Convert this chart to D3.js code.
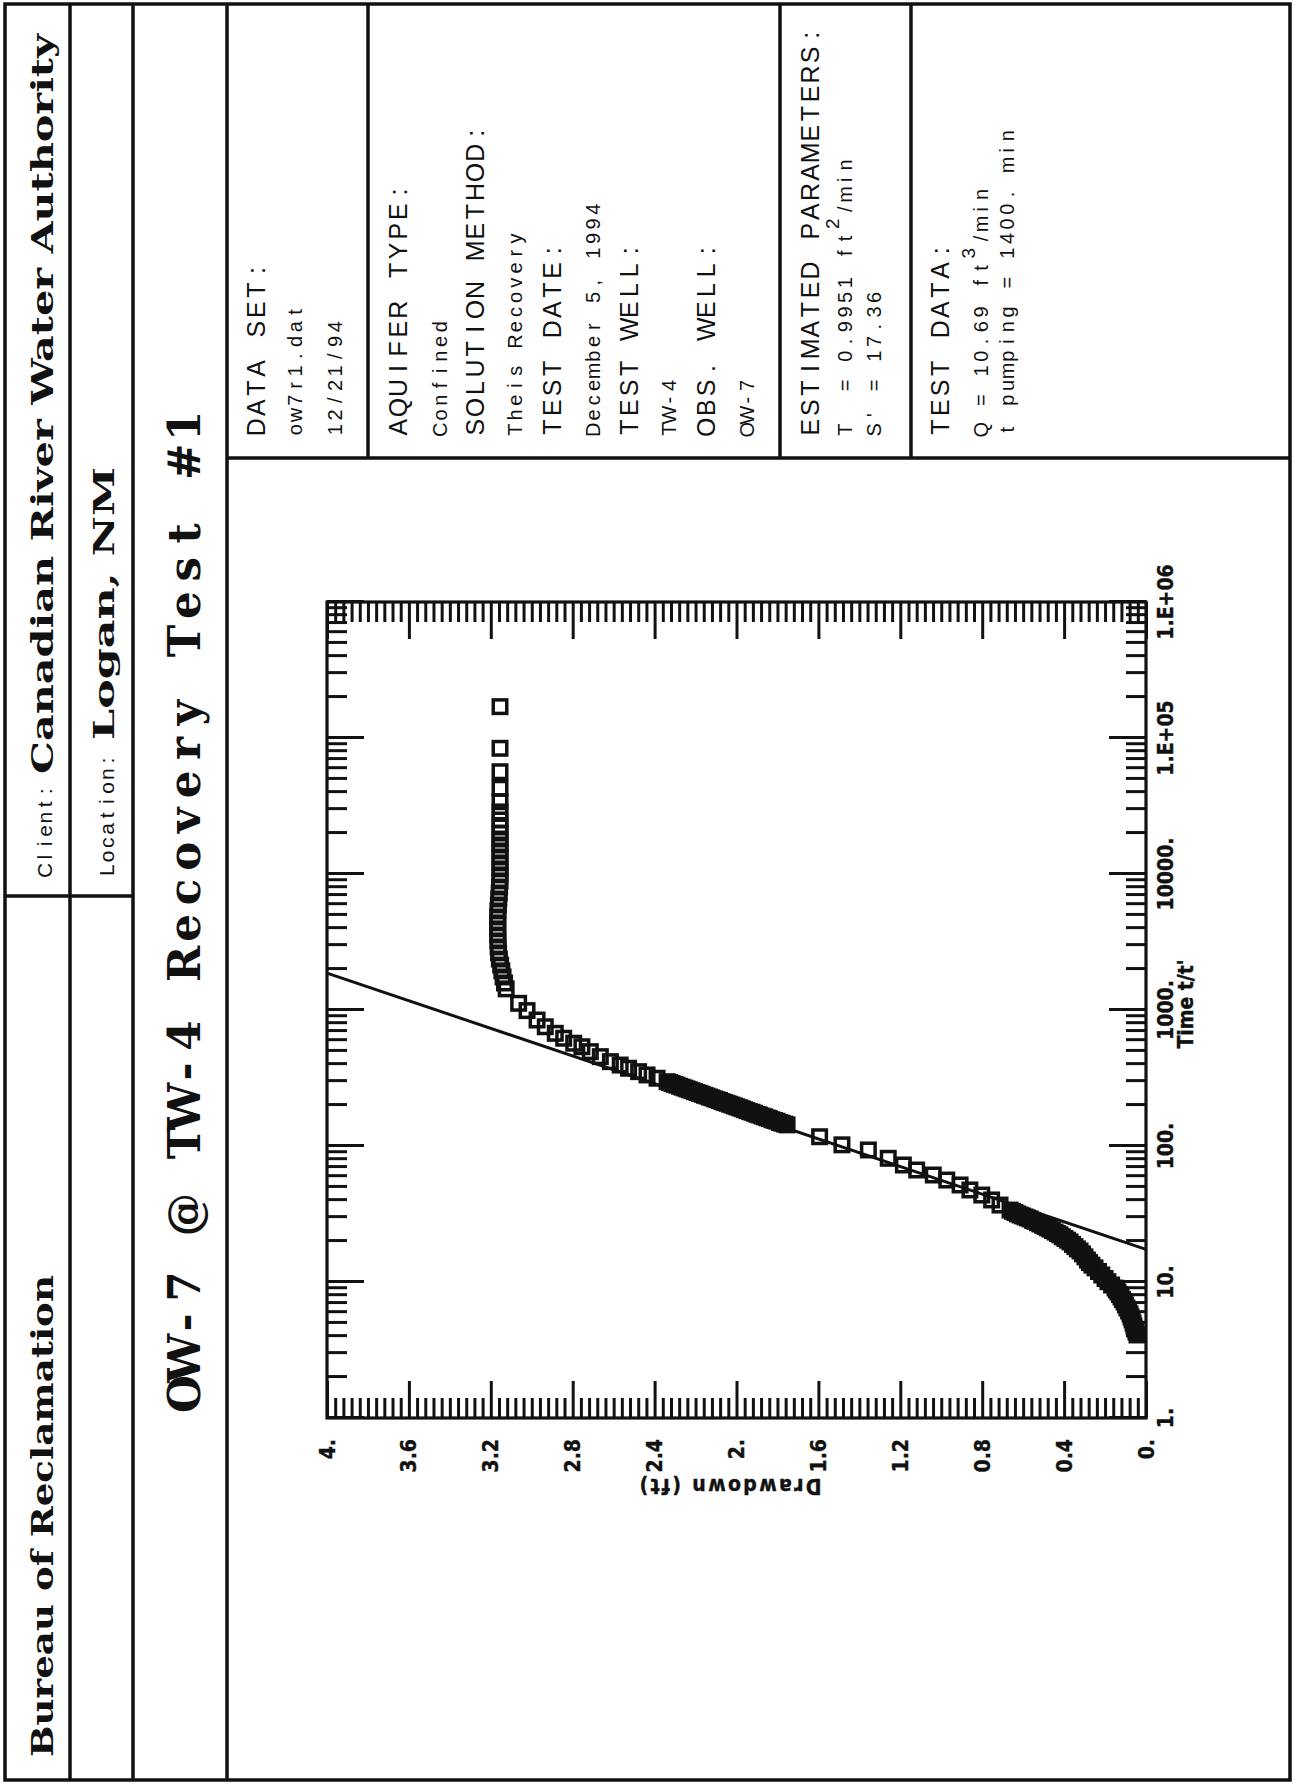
<!DOCTYPE html>
<html>
<head>
<meta charset="utf-8">
<script src="https://cdn.jsdelivr.net/npm/d3@7"></script>
<style>
  html, body { margin: 0; padding: 0; background: #fff; }
  svg { display: block; }
  .serif-bold { font-family: "DejaVu Serif", "Liberation Serif", serif; font-weight: bold; fill: #111; }
  .title { font-family: "DejaVu Serif", "Liberation Serif", serif; font-weight: bold; font-size: 45px; fill: #111; }
  .plain { font-family: "Liberation Sans", Arial, sans-serif; fill: #111; white-space: pre; }
  .tick-label { font-family: "Liberation Sans Narrow", "Arial Narrow", "DejaVu Sans Condensed", "Liberation Sans", sans-serif;
                font-weight: bold; font-size: 21px; fill: #111; stroke: #111; stroke-width: 0.4; }
  .axis-title { font-family: "Liberation Sans Narrow", "Arial Narrow", "DejaVu Sans Condensed", "Liberation Sans", sans-serif;
                font-weight: bold; font-size: 21px; fill: #111; stroke: #111; stroke-width: 0.4; }
</style>
</head>
<body>
<svg id="page" width="1296" height="1785"></svg>
<script>
// ---- Recovery data: ratio t/t' and residual drawdown (ft), in recovery order ----
const timeRatio = [
  // early recovery, water level still flat
  170000, 84000, 56500, 42700, 34000,
  28600, 24950, 22170, 20000, 18080, 16340, 14770, 13340, 12060, 10900, 9850, 8900,
  8020, 7250, 6550, 5920, 5350, 4830, 4370, 3950, 3560, 3220, 2910, 2630,
  2370, 2140, 1940, 1750, 1580, 1430,
  // bend and straight-line portion
  1120, 990, 844, 753, 674, 620, 570, 537, 494, 454, 417, 394, 373, 352, 333, 315,
  297, 293, 288, 284, 280, 275, 271, 267, 263, 259, 255, 251, 247, 244, 240, 236,
  233, 229, 226, 222, 219, 216, 212, 209, 206, 203, 200, 197, 194, 191, 188, 185,
  182, 179, 177, 174, 171, 169, 166, 164, 161, 159, 156, 154, 152, 149, 147, 145, 143,
  117, 102, 93.5, 81.2, 72.5, 66.6, 61.2, 56.2, 51.7, 47.5, 43.6, 40.1, 36.8,
  33.8, 33.1, 32.4, 31.7, 31.1, 30.6, 30.1, 29.6, 29.1, 28.4, 27.9, 27.3, 26.7, 26.1, 25.6, 25.0,
  24.5, 23.9, 23.3, 22.7, 22.2, 21.5, 20.9, 20.3, 19.7, 18.9, 18.2, 17.5, 16.9, 16.1, 15.3, 14.5,
  // late recovery
  13.9, 13.3, 12.7, 11.95, 11.26, 10.61, 10.05, 9.50, 9.03, 8.73, 8.44, 8.09, 7.76, 7.43,
  7.13, 6.78, 6.44, 6.12, 5.82, 5.53, 5.26, 4.99, 4.75, 4.51, 4.29, 4.08
];
const residualDrawdown = [
  3.155, 3.155, 3.155, 3.155, 3.155,
  3.155, 3.155, 3.155, 3.155, 3.155, 3.155, 3.155, 3.155, 3.155, 3.155, 3.155, 3.155,
  3.157, 3.159, 3.161, 3.163, 3.165, 3.166, 3.166, 3.166, 3.166, 3.165, 3.164, 3.162,
  3.158, 3.152, 3.146, 3.140, 3.133, 3.125,
  3.064, 3.023, 2.974, 2.934, 2.885, 2.844, 2.795, 2.755, 2.714, 2.665, 2.616, 2.568, 2.527, 2.478, 2.437, 2.388,
  2.339, 2.327, 2.315, 2.303, 2.291, 2.278, 2.266, 2.254, 2.242, 2.230, 2.217, 2.205, 2.193, 2.181, 2.168, 2.156,
  2.144, 2.132, 2.120, 2.107, 2.095, 2.083, 2.071, 2.059, 2.046, 2.034, 2.022, 2.010, 1.998, 1.985, 1.973, 1.961,
  1.949, 1.936, 1.924, 1.912, 1.900, 1.888, 1.875, 1.863, 1.851, 1.839, 1.827, 1.814, 1.802, 1.790, 1.778, 1.765, 1.753,
  1.594, 1.485, 1.356, 1.259, 1.185, 1.120, 1.039, 0.973, 0.908, 0.860, 0.802, 0.754, 0.713,
  0.664, 0.652, 0.640, 0.628, 0.615, 0.603, 0.591, 0.579, 0.566, 0.554, 0.542, 0.530, 0.518, 0.505, 0.493, 0.481,
  0.469, 0.457, 0.444, 0.432, 0.420, 0.408, 0.396, 0.383, 0.371, 0.359, 0.347, 0.335, 0.322, 0.310, 0.298, 0.286,
  0.276, 0.264, 0.249, 0.232, 0.216, 0.200, 0.186, 0.168, 0.151, 0.144, 0.137, 0.129, 0.122, 0.115,
  0.107, 0.100, 0.093, 0.085, 0.078, 0.073, 0.068, 0.063, 0.059, 0.054, 0.049, 0.044
];

// ---- Axis ticks ----
const xTickValues = [1, 10, 100, 1000, 10000, 100000, 1000000];
const xTickLabels = ["1.", "10.", "100.", "1000.", "10000.", "1.E+05", "1.E+06"];
const yTickValues = [0, 0.4, 0.8, 1.2, 1.6, 2.0, 2.4, 2.8, 3.2, 3.6, 4.0];
const yTickLabels = ["0.", "0.4", "0.8", "1.2", "1.6", "2.", "2.4", "2.8", "3.2", "3.6", "4."];

// ---- Test and fitted parameters (Theis recovery) ----
const pumpingRate = 10.69;       // Q, ft3/min
const transmissivity = 0.9951;   // T, ft2/min
const storageRatio = 17.36;      // S', t/t' where the straight line reaches zero drawdown
const pumpingTime = 1400;        // min

// ---- Header / info panel texts ----
const headerOrg = "Bureau of Reclamation";
const clientName = "Canadian River Water Authority";
const locationName = "Logan, NM";
const chartTitle = "OW-7 @ TW-4 Recovery Test #1";
const xAxisTitle = "Time t/t'";
const yAxisTitle = "Drawdown (ft)";

// ---- Page (landscape sheet, turned a quarter turn on the portrait page) ----
const svg = d3.select("#page");
const sheet = svg.append("g").attr("transform", "translate(0,1785) rotate(-90)");

const rules = sheet.append("g").attr("fill", "none").attr("stroke", "#111").attr("stroke-width", 3.5);
rules.append("rect").attr("x", 5).attr("y", 5).attr("width", 1776).attr("height", 1285);
[70, 133, 227].forEach(v => rules.append("line").attr("x1", 5).attr("x2", 1781).attr("y1", v).attr("y2", v));
rules.append("line").attr("x1", 889).attr("x2", 889).attr("y1", 5).attr("y2", 133);
rules.append("line").attr("x1", 1327).attr("x2", 1327).attr("y1", 227).attr("y2", 1290);
[368, 780, 911].forEach(v => rules.append("line").attr("x1", 1327).attr("x2", 1781).attr("y1", v).attr("y2", v));

// fixed-pitch text: every character centred in its own cell
function pitchText(parent, str, x0, pitch, y, size, cls) {
  const xs = [...str].map((c, i) => (x0 + pitch * (i + 0.5)).toFixed(1));
  return parent.append("text")
    .attr("class", cls)
    .attr("xml:space", "preserve")
    .attr("x", xs.join(" "))
    .attr("y", y)
    .attr("text-anchor", "middle")
    .style("font-size", size + "px")
    .text(str);
}
// fixed-pitch line with a superscript unit: main + sup + tail
function pitchTextSup(parent, main, sup, tail, x0, pitch, y, size) {
  const t = parent.append("text").attr("class", "plain").attr("xml:space", "preserve")
    .attr("text-anchor", "middle").style("font-size", size + "px");
  let cell = 0;
  const xsFor = s => [...s].map(() => (x0 + pitch * (cell++ + 0.5)).toFixed(1)).join(" ");
  t.append("tspan").attr("x", xsFor(main)).attr("y", y).text(main);
  t.append("tspan").attr("x", xsFor(sup)).attr("y", y - 13).style("font-size", (size - 1) + "px").text(sup);
  t.append("tspan").attr("x", xsFor(tail)).attr("y", y).text(tail);
  return t;
}

// header rows
sheet.append("text").attr("class", "serif-bold").attr("x", 28).attr("y", 53)
  .style("font-size", "29px").attr("textLength", 482).attr("lengthAdjust", "spacingAndGlyphs").text(headerOrg);
pitchText(sheet, "Client:", 908, 13.2, 52, 21, "plain");
sheet.append("text").attr("class", "serif-bold").attr("x", 1011).attr("y", 53)
  .style("font-size", "29px").attr("textLength", 740).attr("lengthAdjust", "spacingAndGlyphs").text(clientName);
pitchText(sheet, "Location:", 908, 13.7, 114, 21, "plain");
sheet.append("text").attr("class", "serif-bold").attr("x", 1045).attr("y", 114)
  .style("font-size", "28px").attr("textLength", 273).attr("lengthAdjust", "spacingAndGlyphs").text(locationName);

// title, fixed pitch
{
  const sx = 0.97, pitch = 35.86, x0 = 373;
  const xs = [...chartTitle].map((c, i) => ((x0 + pitch * (i + 0.5)) / sx).toFixed(1));
  sheet.append("text").attr("class", "title").attr("xml:space", "preserve")
    .attr("transform", `scale(${sx},1)`)
    .attr("x", xs.join(" ")).attr("y", 200).attr("text-anchor", "middle").text(chartTitle);
}

// info panel
const info = sheet.append("g");
const X0 = 1348, HP = 19.6, SP = 14.7;
pitchText(info, "DATA SET:", X0, HP, 265, 25, "plain");
pitchText(info, "ow7r1.dat", X0, SP, 302, 20, "plain");
pitchText(info, "12/21/94", X0, SP, 342, 20, "plain");
pitchText(info, "AQUIFER TYPE:", X0, HP, 407, 25, "plain");
pitchText(info, "Confined", X0, SP, 447, 20, "plain");
pitchText(info, "SOLUTION METHOD:", X0, HP, 484, 25, "plain");
pitchText(info, "Theis Recovery", X0, SP, 522, 20, "plain");
pitchText(info, "TEST DATE:", X0, HP, 561, 25, "plain");
pitchText(info, "December 5, 1994", X0, SP, 600, 20, "plain");
pitchText(info, "TEST WELL:", X0, HP, 638, 25, "plain");
pitchText(info, "TW-4", X0, SP, 676, 20, "plain");
pitchText(info, "OBS. WELL:", X0, HP, 715, 25, "plain");
pitchText(info, "OW-7", X0, SP, 754, 20, "plain");
pitchText(info, "ESTIMATED PARAMETERS:", X0, HP, 819, 25, "plain");
pitchTextSup(info, "T  = " + transmissivity + " ft", "2", "/min", X0, SP, 852, 20);
pitchText(info, "S' = " + storageRatio, X0, SP, 881, 20, "plain");
pitchText(info, "TEST DATA:", X0, HP, 949, 25, "plain");
pitchTextSup(info, "Q = " + pumpingRate + " ft", "3", "/min", X0, SP, 988, 20);
pitchText(info, "t pumping = " + pumpingTime + ". min", X0, SP, 1014, 20, "plain");

// ---- Plot ----
const x = d3.scaleLog().domain([1, 1e6]).range([367, 1183]);
const y = d3.scaleLinear().domain([0, 4]).range([1146, 327]);
const plot = sheet.append("g");

const xMinor = x.ticks().filter(v => !xTickValues.includes(v));
const yMinor = d3.range(0, 101).map(i => +(i * 0.04).toFixed(2)).filter(v => !yTickValues.some(t => Math.abs(t - v) < 1e-9));

function ticks(axis, at, values, len) {
  const g = plot.append("g").attr("transform", at)
    .call(axis.tickValues(values).tickSize(-len).tickFormat(""));
  g.select(".domain").remove();
  g.selectAll(".tick line").attr("stroke", "#111").attr("stroke-width", 3);
}
const minorLen = 20, majorLen = 37;
ticks(d3.axisBottom(x), `translate(0,${y(0)})`, xMinor, minorLen);
ticks(d3.axisBottom(x), `translate(0,${y(0)})`, xTickValues, majorLen);
ticks(d3.axisTop(x), `translate(0,${y(4)})`, xMinor, minorLen);
ticks(d3.axisTop(x), `translate(0,${y(4)})`, xTickValues, majorLen);
ticks(d3.axisLeft(y), `translate(${x(1)},0)`, yMinor, minorLen);
ticks(d3.axisLeft(y), `translate(${x(1)},0)`, yTickValues, majorLen);
ticks(d3.axisRight(y), `translate(${x(1e6)},0)`, yMinor, minorLen);
ticks(d3.axisRight(y), `translate(${x(1e6)},0)`, yTickValues, majorLen);

plot.append("rect")
  .attr("x", x(1)).attr("y", y(4))
  .attr("width", x(1e6) - x(1)).attr("height", y(0) - y(4))
  .attr("fill", "none").attr("stroke", "#111").attr("stroke-width", 3.2);

// tick labels
plot.selectAll(".xlab").data(xTickValues).enter().append("text")
  .attr("class", "tick-label").attr("x", d => x(d)).attr("y", 1173)
  .attr("text-anchor", "middle").text((d, i) => xTickLabels[i]);
plot.selectAll(".ylab").data(yTickValues).enter().append("text")
  .attr("class", "tick-label").attr("x", 346).attr("y", d => y(d)).attr("dy", "0.36em")
  .attr("text-anchor", "end").text((d, i) => yTickLabels[i]);

plot.append("text").attr("class", "axis-title").attr("x", 781).attr("y", 1193)
  .attr("text-anchor", "middle").text(xAxisTitle);
plot.append("text").attr("class", "axis-title")
  .attr("transform", `translate(306,${(y(0) + y(4)) / 2 - 6}) rotate(-90)`)
  .attr("text-anchor", "middle").attr("textLength", 182).attr("lengthAdjust", "spacing").text(yAxisTitle);

// Theis recovery straight line: s' = 2.303 Q / (4 pi T) * log10((t/t') / S')
const slope = 2.303 * pumpingRate / (4 * Math.PI * transmissivity);
const fitLine = [
  { t: storageRatio, s: 0 },
  { t: storageRatio * Math.pow(10, 4 / slope), s: 4 }
];
plot.append("path").datum(fitLine)
  .attr("d", d3.line().x(d => x(d.t)).y(d => y(d.s)))
  .attr("fill", "none").attr("stroke", "#111").attr("stroke-width", 3);

// observation points as open squares
const pts = timeRatio.map((t, i) => ({ t, s: residualDrawdown[i] }));
const side = 13.5;
plot.append("g").selectAll("rect").data(pts).enter().append("rect")
  .attr("x", d => x(d.t) - side / 2).attr("y", d => y(d.s) - side / 2)
  .attr("width", side).attr("height", side)
  .attr("fill", "none").attr("stroke", "#111").attr("stroke-width", 3.5);
</script>
</body>
</html>
